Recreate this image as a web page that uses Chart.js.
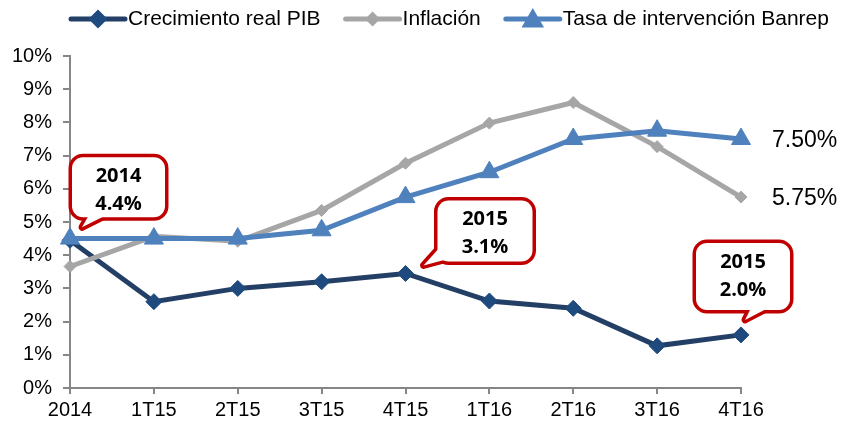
<!DOCTYPE html>
<html lang="es">
<head>
<meta charset="utf-8">
<title>Crecimiento, inflación y tasa Banrep</title>
<script src="https://cdn.jsdelivr.net/npm/chart.js@4.4.1/dist/chart.umd.min.js"></script>
<style>
	html, body { margin: 0; padding: 0; background: #ffffff; }
	#contenedor { width: 847px; height: 429px; position: relative; }
</style>
</head>
<body>
<div id="contenedor"><canvas id="grafico"></canvas></div>
<script>
	const categorias = ['2014', '1T15', '2T15', '3T15', '4T15', '1T16', '2T16', '3T16', '4T16'];
	const crecimientoPIB = [4.45, 2.6, 3.0, 3.2, 3.45, 2.62, 2.4, 1.27, 1.6];
	const inflacion = [3.66, 4.57, 4.42, 5.35, 6.77, 7.98, 8.6, 7.27, 5.75];
	const tasaBanrep = [4.5, 4.5, 4.5, 4.75, 5.75, 6.5, 7.5, 7.75, 7.5];
	const ticksY = [0, 1, 2, 3, 4, 5, 6, 7, 8, 9, 10];

	// llamadas sobre la serie del PIB
	const llamadaIndices = [0, 4, 8];
	const llamadaAnios = ['2014', '2015', '2015'];
	const llamadaValores = ['4.4%', '3.1%', '2.0%'];

	const fuente = '"Liberation Sans", Arial, sans-serif';
	const colorEje = '#868686';
	const rojo = '#c00000';

	// geometria de cada globo relativa al punto del PIB
	const globos = [
		{ caja: [2, -83, 93, 60], punta: [12, -13], base: [[20, -27], [40, -27]] },
		{ caja: [32, -73, 95, 61], punta: [18, -8], base: [[36, -28], [48, -16]] },
		{ caja: [-45, -92, 94, 67], punta: [4, -15], base: [[11, -29], [31, -29]] }
	];

	const pluginLeyenda = {
		id: 'leyendaPropia',
		afterDraw(chart) {
			const ctx = chart.ctx;
			ctx.save();
			ctx.font = '21px ' + fuente;
			ctx.textBaseline = 'middle';
			ctx.fillStyle = '#000';
			let x = 68;
			const y = 19;
			chart.data.datasets.forEach(ds => {
				ctx.strokeStyle = ds.borderColor;
				ctx.lineWidth = 5;
				ctx.lineCap = 'round';
				ctx.beginPath();
				ctx.moveTo(x + 3, y);
				ctx.lineTo(x + 57, y);
				ctx.stroke();
				ctx.fillStyle = ds.pointBackgroundColor;
				ctx.strokeStyle = ds.pointBorderColor;
				Chart.helpers.drawPoint(ctx, {
					pointStyle: ds.pointStyle,
					radius: ds.leyendaRadio,
					rotation: 0,
					borderWidth: 1
				}, x + 30, y + (ds.pointStyle === 'triangle' ? 2 : 0));
				ctx.fillStyle = '#000';
				ctx.fillText(ds.label, x + 60, y);
				x += 60 + ctx.measureText(ds.label).width + 22;
			});
			ctx.restore();
		}
	};

	const pluginEtiquetas = {
		id: 'etiquetasFinales',
		afterDatasetsDraw(chart) {
			const ctx = chart.ctx;
			ctx.save();

			// valores al final de inflacion y tasa
			ctx.font = '23px ' + fuente;
			ctx.fillStyle = '#000';
			ctx.textBaseline = 'middle';
			ctx.textAlign = 'left';
			[1, 2].forEach(i => {
				const meta = chart.getDatasetMeta(i);
				const datos = chart.data.datasets[i].data;
				const p = meta.data[datos.length - 1];
				ctx.fillText(datos[datos.length - 1].toFixed(2) + '%', p.x + 31, p.y + 2);
			});

			// globos rojos
			const metaPIB = chart.getDatasetMeta(0);
			llamadaIndices.forEach((idx, k) => {
				const p = metaPIB.data[idx];
				const g = globos[k];
				const bx = p.x + g.caja[0], by = p.y + g.caja[1];
				const bw = g.caja[2], bh = g.caja[3];
				const tri = [g.punta, g.base[0], g.base[1]].map(q => [p.x + q[0], p.y + q[1]]);

				const trazarTri = () => {
					ctx.beginPath();
					ctx.moveTo(tri[0][0], tri[0][1]);
					ctx.lineTo(tri[1][0], tri[1][1]);
					ctx.lineTo(tri[2][0], tri[2][1]);
					ctx.closePath();
				};

				ctx.lineJoin = 'round';
				ctx.strokeStyle = rojo;
				ctx.lineWidth = 7;
				ctx.beginPath();
				ctx.roundRect(bx, by, bw, bh, 11);
				ctx.stroke();
				trazarTri();
				ctx.stroke();

				ctx.fillStyle = '#ffffff';
				ctx.beginPath();
				ctx.roundRect(bx, by, bw, bh, 11);
				ctx.fill();
				trazarTri();
				ctx.fill();

				ctx.fillStyle = '#000';
				ctx.font = 'bold 20px "Open Sans", sans-serif';
				ctx.textAlign = 'center';
				ctx.fillText(llamadaAnios[k], bx + bw / 2, by + 19);
				ctx.fillText(llamadaValores[k], bx + bw / 2, by + 47);
			});
			ctx.restore();
		}
	};

	const ctxGrafico = document.getElementById('grafico').getContext('2d');

	const grafico = new Chart(ctxGrafico, {
		type: 'line',
		data: {
			labels: categorias,
			datasets: [{
				label: 'Crecimiento real PIB',
				data: crecimientoPIB,
				borderColor: '#243f66',
				borderWidth: 5,
				pointStyle: 'rectRot',
				pointRadius: 8,
				pointBackgroundColor: '#1f4a7e',
				pointBorderColor: '#1f4a7e',
				pointBorderWidth: 1,
				leyendaRadio: 6,
				tension: 0,
				order: 3
			}, {
				label: 'Inflación',
				data: inflacion,
				borderColor: '#a6a6a6',
				borderWidth: 5,
				pointStyle: 'rectRot',
				pointRadius: 6,
				pointBackgroundColor: '#a6a6a6',
				pointBorderColor: '#a6a6a6',
				pointBorderWidth: 1,
				leyendaRadio: 4,
				tension: 0,
				order: 2
			}, {
				label: 'Tasa de intervención Banrep',
				data: tasaBanrep,
				borderColor: '#4f81bd',
				borderWidth: 5,
				pointStyle: 'triangle',
				pointRadius: 11,
				pointBackgroundColor: '#4f81bd',
				pointBorderColor: '#4f81bd',
				pointBorderWidth: 1,
				leyendaRadio: 8,
				tension: 0,
				order: 1
			}]
		},
		options: {
			responsive: true,
			maintainAspectRatio: false,
			animation: false,
			layout: { padding: { top: 56, right: 106, left: 0, bottom: 0 } },
			scales: {
				x: {
					offset: false,
					grid: { drawOnChartArea: false, drawTicks: true, tickLength: 6, color: colorEje, lineWidth: 2 },
					border: { color: colorEje, width: 2 },
					ticks: { color: '#000', font: { size: 20, family: fuente }, padding: 4, maxRotation: 0, autoSkip: false },
					afterFit(escala) { escala.height = 41; }
				},
				y: {
					min: 0,
					max: 10,
					afterBuildTicks(escala) { escala.ticks = ticksY.map(v => ({ value: v })); },
					grid: { drawOnChartArea: false, drawTicks: true, tickLength: 7, color: colorEje, lineWidth: 2 },
					border: { color: colorEje, width: 2 },
					ticks: { color: '#000', font: { size: 20, family: fuente }, padding: 11, callback: (v) => v + '%' },
					afterFit(escala) { escala.width = 70; }
				}
			},
			plugins: {
				legend: { display: false },
				tooltip: { enabled: false }
			}
		},
		plugins: [pluginLeyenda, pluginEtiquetas]
	});
</script>
</body>
</html>
